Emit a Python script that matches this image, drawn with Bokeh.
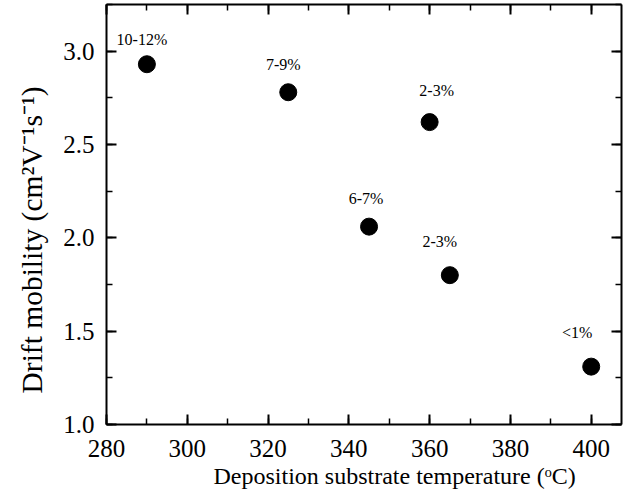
from bokeh.plotting import figure
from bokeh.models import LinearAxis, SingleIntervalTicker, NumeralTickFormatter, Range1d, ColumnDataSource, Title
from bokeh.core.properties import value
from bokeh.embed import file_html
from bokeh.resources import INLINE

# data
temperature = [290, 325, 345, 360, 365, 400]
mobility = [2.93, 2.78, 2.06, 2.62, 1.80, 1.31]
h_content = ["10-12%", "7-9%", "6-7%", "2-3%", "2-3%", "<1%"]
x_title = "Deposition substrate temperature (ᵒC)"
y_title = "Drift mobility (cm²V⁻¹s⁻¹)"
# label offsets in screen pixels (style)
lab_dx = [-5, -5, -3, 7, -10, -14]
lab_dy = [-25, -28, -28, -32, -34, -34]

FONT = "Liberation Serif"

src = ColumnDataSource(dict(x=temperature, y=mobility, t=h_content, dx=lab_dx, dy=lab_dy))

p = figure(width=626, height=496, output_backend="svg", toolbar_location=None,
           x_range=Range1d(280, 407.5), y_range=Range1d(1.0, 3.25),
           x_axis_type=None, y_axis_type=None)
p.min_border_left = 106
p.min_border_right = 5
p.min_border_top = 4
p.min_border_bottom = 72
p.outline_line_color = None
p.xgrid.visible = False
p.ygrid.visible = False
p.background_fill_color = "white"
p.border_fill_color = "white"

def style(ax, labels=True):
    ax.axis_line_width = 2
    ax.axis_line_color = "black"
    ax.major_tick_in = 10
    ax.major_tick_out = 0
    ax.minor_tick_in = 6
    ax.minor_tick_out = 0
    ax.major_tick_line_width = 2
    ax.minor_tick_line_width = 1.5
    ax.major_tick_line_color = "black"
    ax.minor_tick_line_color = "black"
    if labels:
        ax.major_label_text_font = FONT
        ax.major_label_text_font_size = "25px"
        ax.major_label_text_color = "black"
    else:
        ax.major_label_text_font_size = "0px"
        ax.major_label_text_color = None
        ax.major_label_standoff = 0

xt = lambda: SingleIntervalTicker(interval=20, num_minor_ticks=2)
yt = lambda: SingleIntervalTicker(interval=0.5, num_minor_ticks=2)

xb = LinearAxis(ticker=xt())
style(xb)
xb.major_label_standoff = 15
p.add_layout(xb, "below")

yl = LinearAxis(ticker=yt(), formatter=NumeralTickFormatter(format="0.0"))
style(yl)
yl.major_label_standoff = 12
p.add_layout(yl, "left")

xa = LinearAxis(ticker=xt())
style(xa, labels=False)
p.add_layout(xa, "above")

yr = LinearAxis(ticker=yt())
style(yr, labels=False)
p.add_layout(yr, "right")

# axis titles
p.add_layout(Title(text=x_title, align="left", offset=107, standoff=3,
                   text_font=FONT, text_font_size="24px", text_font_style="normal",
                   text_color="black"), "below")
p.add_layout(Title(text=y_title, align="left", offset=31, standoff=25,
                   text_font=FONT, text_font_size="29.5px", text_font_style="normal",
                   text_color="black"), "left")

p.scatter("x", "y", source=src, size=17, marker="circle", fill_color="black", line_color="black")
p.text("x", "y", text="t", source=src, x_offset="dx", y_offset="dy",
       text_font=value(FONT), text_font_size="16px", text_align="center",
       text_baseline="middle", text_color="black")

open("out.html", "w").write(file_html(p, INLINE))
